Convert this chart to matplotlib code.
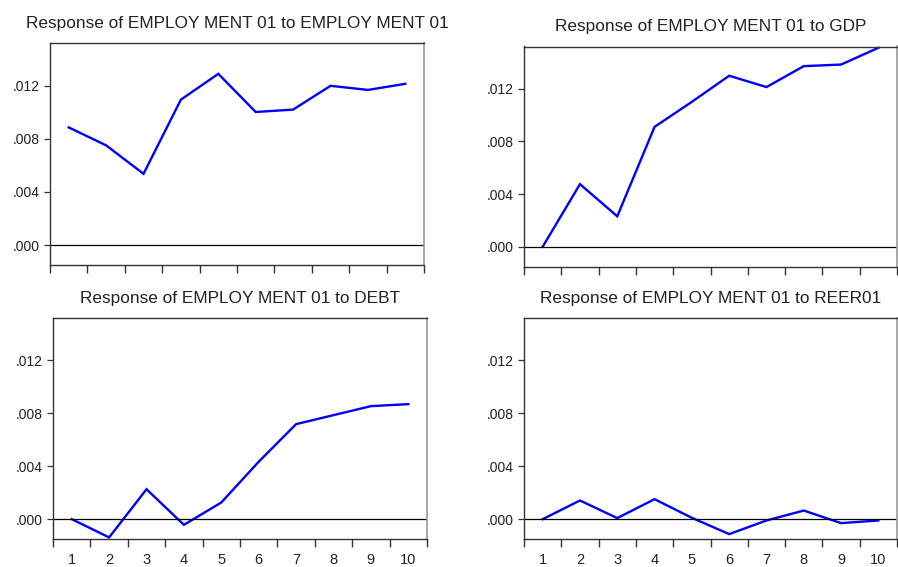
import matplotlib
matplotlib.use("Agg")
import matplotlib.pyplot as plt
from matplotlib.ticker import FuncFormatter, FixedLocator

plt.rcParams['font.family'] = ['Liberation Sans', 'DejaVu Sans']

periods = [1, 2, 3, 4, 5, 6, 7, 8, 9, 10]
resp_employment = [0.00885, 0.0075, 0.00536, 0.01094, 0.01288, 0.01001, 0.01019, 0.01198, 0.01167, 0.01213]
resp_gdp = [0.0, 0.00475, 0.00231, 0.0091, 0.0110, 0.01298, 0.01212, 0.01371, 0.01383, 0.0151]
resp_debt = [0.0, -0.00138, 0.00226, -0.00043, 0.00126, 0.00434, 0.00718, 0.00786, 0.00854, 0.00869]
resp_reer = [0.0, 0.00141, 0.00008, 0.00151, 0.0001, -0.00113, -0.0001, 0.00065, -0.0003, -0.0001]

titles = [
    "Response of EMPLOY MENT 01 to EMPLOY MENT 01",
    "Response of EMPLOY MENT 01 to GDP",
    "Response of EMPLOY MENT 01 to DEBT",
    "Response of EMPLOY MENT 01 to REER01",
]
series = [resp_employment, resp_gdp, resp_debt, resp_reer]
yticks = [0.0, 0.004, 0.008, 0.012]

W, H = 898, 567
# (left, right, top, bottom) in pixels
boxes = [
    (50, 424, 43, 265),
    (524, 897, 46.5, 266.5),
    (53, 427, 318, 539),
    (524, 897, 318, 539),
]

fig = plt.figure(figsize=(W / 100, H / 100), dpi=100)
fmt = FuncFormatter(lambda v, p: ("%.3f" % v).replace("0.", ".", 1) if v >= 0 else ("%.3f" % v))

for i, (vals, title, (l, r, t, b)) in enumerate(zip(series, titles, boxes)):
    ax = fig.add_axes([l / W, 1 - b / H, (r - l) / W, (b - t) / H])
    ax.plot(periods, vals, color='#0000FF', lw=1.7, solid_joinstyle='miter', clip_on=False if i == 1 else True)
    ax.axhline(0, color='black', lw=0.9)
    ax.set_xlim(0.5, 10.5)
    ax.set_ylim(-0.0015, 0.0152)
    ax.yaxis.set_major_locator(FixedLocator(yticks))
    ax.yaxis.set_major_formatter(fmt)
    ax.xaxis.set_major_locator(FixedLocator(periods))
    ax.xaxis.set_minor_locator(FixedLocator([p + 0.5 for p in [0] + periods]))
    ax.tick_params(axis='x', which='major', length=0, pad=10, labelsize=10.5, labelcolor='#222222')
    ax.tick_params(axis='x', which='minor', length=6, width=1.0, direction='out', color='#333333')
    ax.tick_params(axis='y', which='major', length=4.5, width=0.9, direction='out', pad=3,
                   labelsize=10, labelcolor='#222222', color='#333333')
    if i < 2:
        ax.tick_params(axis='x', which='major', labelbottom=False)
    for s in ['left', 'top', 'bottom']:
        ax.spines[s].set_color('#333333')
        ax.spines[s].set_linewidth(1.0)
    ax.spines['right'].set_color('#999999')
    ax.spines['right'].set_linewidth(1.2)
    ax.set_title(title, fontsize=12.4, color='#222222', pad=11)

fig.savefig("out.png", dpi=100)
